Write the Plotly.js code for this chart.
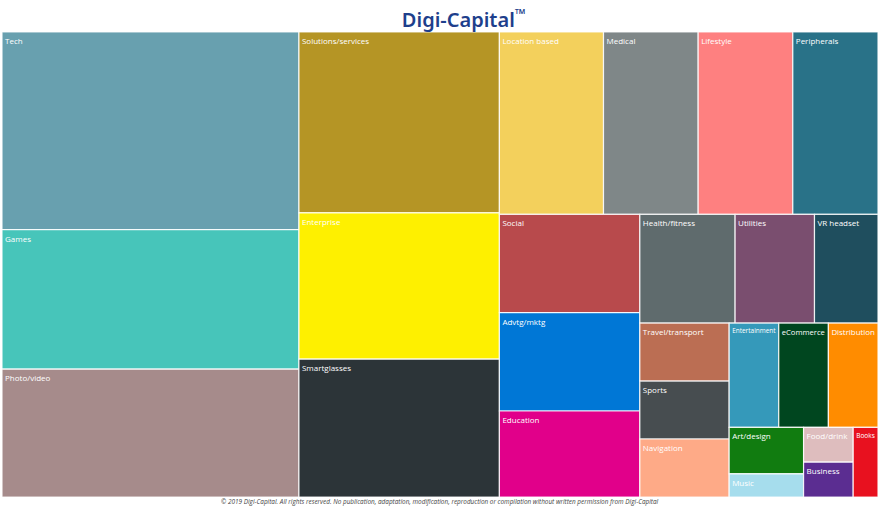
<!DOCTYPE html>
<html>
<head>
<meta charset="utf-8">
<script src="https://cdn.plot.ly/plotly-3.0.1.min.js"></script>
<style>html,body{margin:0;padding:0;background:#fff;}#chart{width:880px;height:506px;}</style>
</head>
<body>
<div id="chart"></div>
<script>
const categories = ["Tech","Games","Photo/video","Solutions/services","Enterprise","Smartglasses",
  "Location based","Medical","Lifestyle","Peripherals","Social","Advtg/mktg","Education",
  "Health/fitness","Utilities","VR headset","Travel/transport","Sports","Navigation",
  "Entertainment","eCommerce","Distribution","Art/design","Music","Food/drink","Business","Books"];
const counts = [34,24,22,21,17,16,11,10,10,9,8,8,7,6,5,4,3,3,3,3,3,3,2,1,1,1,1];
const colors = ["#68A0AF","#47C5BA","#A68B8B","#B59525","#FEF000","#2C3438",
  "#F3D05C","#7F8788","#FE8080","#297288","#B84A4C","#0077D6","#E1008A",
  "#5F6B6D","#7A4E6F","#1F4E5E","#BB6E53","#474D50","#FEAA87",
  "#3599BA","#00461F","#FF8C00","#117C10","#A6DDED","#DEBDBE","#5B2D91","#E8111F"];
const parents = categories.map(() => "");

const trace = {
  type: "treemap",
  labels: categories,
  parents: parents,
  values: counts,
  sort: true,
  textinfo: "label",
  textposition: "top left",
  textfont: {family: "Open Sans, sans-serif", size: 8, color: "#ffffff"},
  marker: {colors: colors, line: {color: "rgba(255,255,255,0.85)", width: 1.2},
    pad: {t: 0, l: 0, r: 0, b: 0}},
  tiling: {packing: "squarify", squarifyratio: 1.618034, pad: 0},
  pathbar: {visible: false},
  hoverinfo: "label+value"
};

const layout = {
  width: 880, height: 506,
  margin: {l: 2, r: 2, t: 32, b: 9},
  paper_bgcolor: "#ffffff",
  title: {text: "Digi-Capital<sup style='font-size:7px'>™</sup>", x: 0.527, xanchor: "center", yref: "paper", y: 1, yanchor: "bottom",
    pad: {b: 5},
    font: {family: "Noto Sans, sans-serif", size: 20, color: "#1E3F8C", weight: 600}},
  annotations: [{
    text: "<i>© 2019 Digi-Capital. All rights reserved. No publication, adaptation, modification, reproduction or compilation without written permission from Digi-Capital</i>",
    xref: "paper", yref: "paper", x: 0.5, y: 0, xanchor: "center", yanchor: "middle", yshift: -4.5,
    showarrow: false, font: {family: "Open Sans, sans-serif", size: 6.4, color: "#444444"}
  }]
};

Plotly.newPlot("chart", [trace], layout, {displayModeBar: false});
</script>
</body>
</html>
